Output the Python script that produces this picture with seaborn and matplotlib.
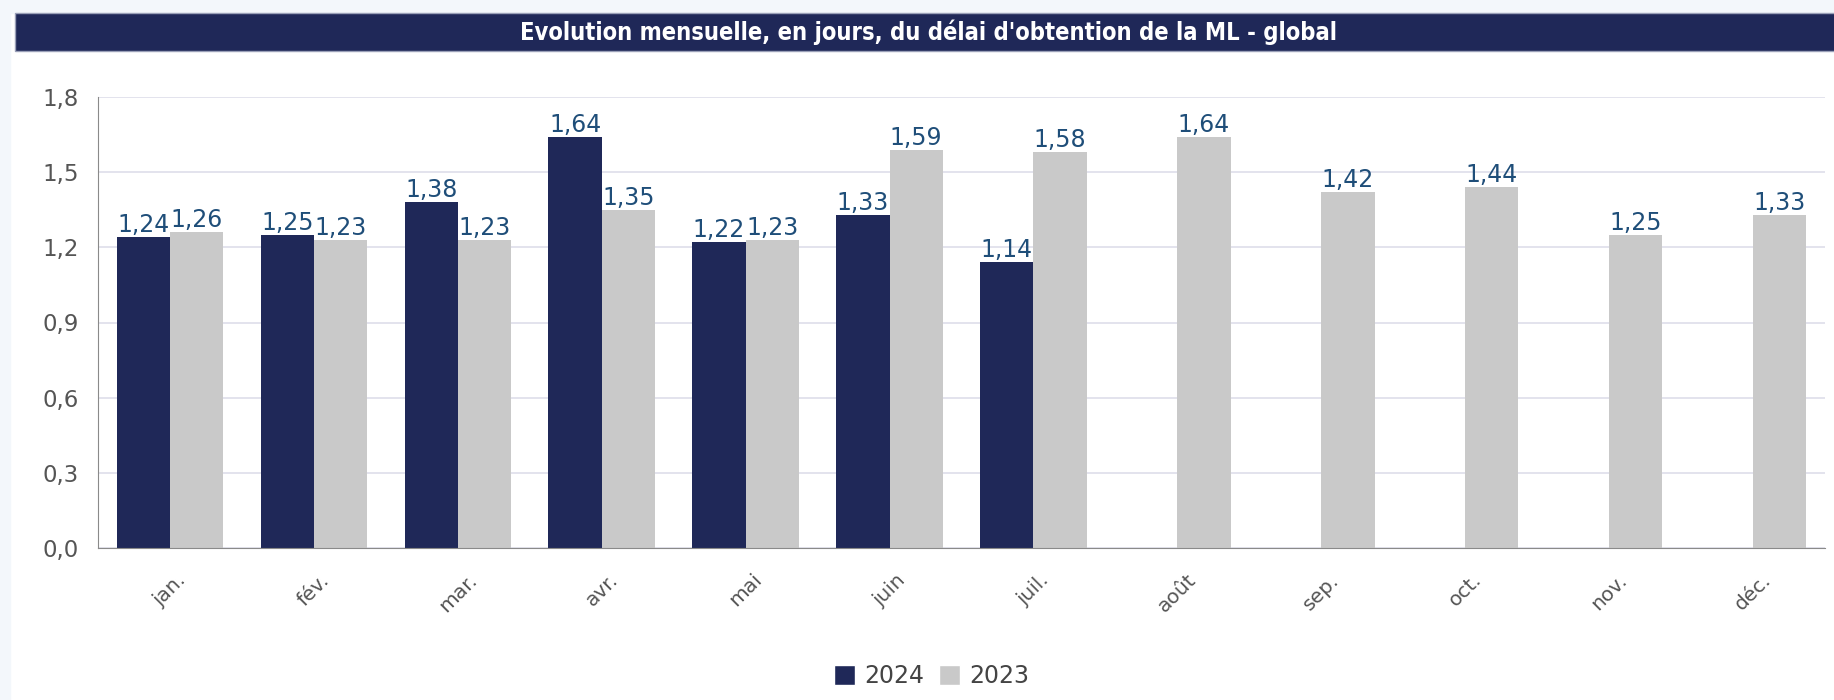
import matplotlib
matplotlib.use("Agg")
import matplotlib.pyplot as plt
from matplotlib.patches import Rectangle, Patch
import pandas as pd
import numpy as np
import seaborn as sns

# Data
months = ["jan.", "fév.", "mar.", "avr.", "mai", "juin", "juil.", "août", "sep.", "oct.", "nov.", "déc."]
val_2024 = [1.24, 1.25, 1.38, 1.64, 1.22, 1.33, 1.14, np.nan, np.nan, np.nan, np.nan, np.nan]
val_2023 = [1.26, 1.23, 1.23, 1.35, 1.23, 1.59, 1.58, 1.64, 1.42, 1.44, 1.25, 1.33]
years = ["2024", "2023"]
colors = {"2024": "#1f2858", "2023": "#c9c9c9"}

df = pd.DataFrame({
    "mois": months * 2,
    "annee": ["2024"] * 12 + ["2023"] * 12,
    "valeur": val_2024 + val_2023,
})

sns.set_style("white")
plt.rcParams["font.family"] = ["DejaVu Sans"]

fig = plt.figure(figsize=(18.34, 7), dpi=100)
fig.patch.set_facecolor("white")

# light frame on left and top, then title bar
fig.patches.append(Rectangle((0, 0), 10 / 1834, 1, transform=fig.transFigure, color="#f3f7fb", zorder=0))
fig.patches.append(Rectangle((0, 1 - 13 / 700), 1, 13 / 700, transform=fig.transFigure, color="#f3f7fb", zorder=0))
fig.patches.append(Rectangle((15 / 1834, 1 - 51 / 700), 1, 38 / 700, transform=fig.transFigure,
                             facecolor="#1f2858", edgecolor="#9aa0b8", lw=1, zorder=1))
fig.text(0.506, 1 - 32 / 700, "Evolution mensuelle, en jours, du délai d'obtention de la ML - global",
         color="white", fontsize=17, fontweight="bold", ha="center", va="center",
         family=["Liberation Sans Narrow", "DejaVu Sans"], fontstretch="condensed", zorder=2)

ax = fig.add_axes([98 / 1834, 1 - 548 / 700, (1825 - 98) / 1834, (548 - 97) / 700])
sns.barplot(data=df, x="mois", y="valeur", hue="annee", hue_order=years, palette=colors,
            width=0.74, saturation=1, linewidth=0, ax=ax, legend=False)

for cont in ax.containers:
    labels = ["" if np.isnan(v) else f"{v:.2f}".replace(".", ",") for v in cont.datavalues]
    ax.bar_label(cont, labels=labels, padding=0, color="#1f4e79", fontsize=17)

ax.set_ylim(0, 1.8)
ax.set_yticks(np.arange(0, 1.81, 0.3))
ax.set_yticklabels([f"{t:.1f}".replace(".", ",") for t in np.arange(0, 1.81, 0.3)])
ax.set_xlim(-0.5, 11.5)
ax.set_xlabel("")
ax.set_ylabel("")
ax.grid(axis="y", color="#dedeea", lw=1.2)
ax.set_axisbelow(True)
for s in ["top", "right"]:
    ax.spines[s].set_visible(False)
for s in ["left", "bottom"]:
    ax.spines[s].set_color("#8a8a8a")
ax.tick_params(axis="y", labelsize=16.5, colors="#555555", length=0, pad=14)
ax.tick_params(axis="x", labelsize=14.5, colors="#555555", length=0, pad=16)
plt.setp(ax.get_xticklabels(), rotation=45, ha="center", va="top")

handles = [Patch(facecolor=colors[y], label=y) for y in years]
fig.legend(handles=handles, loc="center", bbox_to_anchor=(0.508, 1 - 676 / 700), ncol=2, frameon=False,
           fontsize=17, handlelength=0.9, handleheight=0.9, handletextpad=0.4, columnspacing=0.6,
           labelcolor="#444444")

fig.savefig("out.png", dpi=100)
